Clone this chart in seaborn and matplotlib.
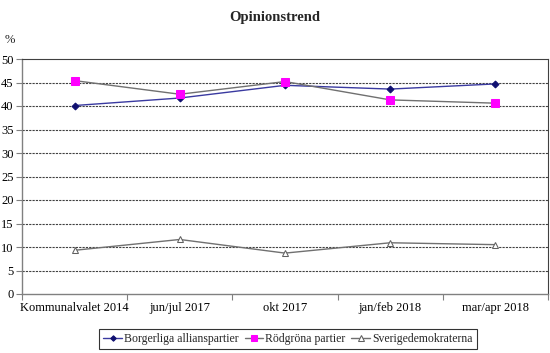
import pandas as pd
import matplotlib
matplotlib.use('Agg')
import matplotlib.pyplot as plt
import seaborn as sns
from matplotlib.ticker import MultipleLocator, FixedLocator

# Data
periods = ['Kommunalvalet 2014', 'jun/jul 2017', 'okt 2017', 'jan/feb 2018', 'mar/apr 2018']
borgerliga = [40.1, 41.7, 44.4, 43.6, 44.7]
rodgrona = [45.4, 42.5, 45.2, 41.3, 40.6]
sd = [9.3, 11.6, 8.7, 10.9, 10.5]

sns.set_theme(style="white")
plt.rcParams['font.family'] = ['Liberation Serif', 'DejaVu Serif']

fig = plt.figure(figsize=(5.5, 3.53), dpi=100)
ax = fig.add_axes([22 / 550, 1 - 294 / 353, 526 / 550, 235 / 353])

x = list(range(len(periods)))
sns.lineplot(x=x, y=borgerliga, ax=ax, color='#3a3aa0', lw=1, marker='D', markersize=3.5,
             mfc='#101070', mec='#101070', label='Borgerliga allianspartier')
sns.lineplot(x=x, y=rodgrona, ax=ax, color='#707070', lw=1, marker='s', markersize=5.5,
             mfc='#ff00ff', mec='#ff00ff', label='Rödgröna partier')
sns.lineplot(x=x, y=sd, ax=ax, color='#707070', lw=1, marker='^', markersize=5,
             mfc='white', mec='#606060', label='Sverigedemokraterna')

ax.set_xlim(-0.5, len(periods) - 0.5)
ax.set_ylim(0, 50)
ax.yaxis.set_major_locator(MultipleLocator(5))
ax.set_xticks(x)
ax.set_xticklabels(periods)
ax.xaxis.set_minor_locator(FixedLocator([i + 0.5 for i in range(-1, len(periods))]))
ax.tick_params(axis='x', which='major', length=0, pad=6, labelsize=9, colors='black')
ax.tick_params(axis='x', which='minor', length=4, width=0.8, color='#808080', direction='out', bottom=True)
ax.tick_params(axis='y', length=4, width=0.8, color='#808080', direction='out', left=True,
               labelsize=9, pad=2, labelcolor='black')

for v in range(5, 50, 5):
    ax.axhline(v, color='#404040', lw=0.8, ls=(0, (2, 1)), zorder=0)

for side in ['left', 'bottom']:
    ax.spines[side].set_color('#808080')
    ax.spines[side].set_linewidth(1)
for side in ['top', 'right']:
    ax.spines[side].set_color('#404040')
    ax.spines[side].set_linewidth(0.8)

ax.set_xlabel('')
ax.set_ylabel('')
fig.text(0.5, 1 - 17 / 353, 'Opinionstrend', ha='center', va='center', fontsize=10.5, fontweight='bold')
fig.text(10 / 550, 1 - 40 / 353, '%', ha='center', va='center', fontsize=9)

leg = ax.legend(loc='center', bbox_to_anchor=(288 / 550, 1 - 339 / 353), bbox_transform=fig.transFigure,
                ncol=3, fontsize=8.5, frameon=True, fancybox=False, handlelength=1.6,
                handletextpad=0.15, columnspacing=0.5, borderpad=0.35, borderaxespad=0,
                markerscale=0.8)
leg.get_frame().set_edgecolor('black')
leg.get_frame().set_linewidth(0.8)

fig.savefig('out.png', dpi=100)
